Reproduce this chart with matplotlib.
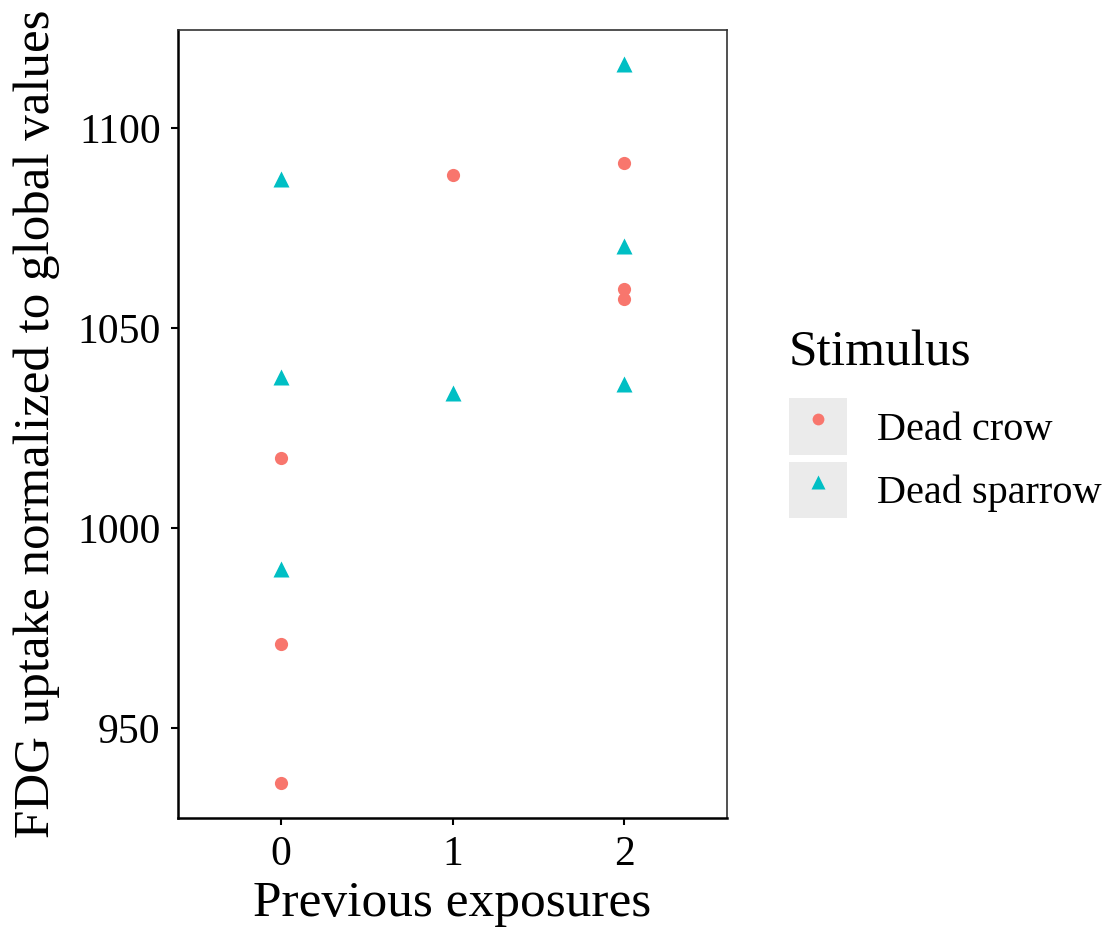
import numpy as np
import matplotlib
matplotlib.use("Agg")
import matplotlib.pyplot as plt
from matplotlib.lines import Line2D
from matplotlib.patches import Rectangle
from matplotlib.legend_handler import HandlerTuple

plt.rcParams["font.family"] = ["Liberation Serif", "DejaVu Serif"]

# data
crow_x = [0, 0, 0, 1, 2, 2, 2]
crow_y = [1017.5, 971.0, 936.3, 1088.2, 1091.2, 1059.8, 1057.2]
sparrow_x = [0, 0, 0, 1, 2, 2, 2]
sparrow_y = [1087.2, 1037.8, 989.8, 1033.8, 1116.0, 1070.5, 1036.0]
y_ticks = [950, 1000, 1050, 1100]
x_ticks = [0, 1, 2]

CROW = "#F8766D"
SPARROW = "#00BFC4"

fig = plt.figure(figsize=(11.1, 9.34), dpi=100)
ax = fig.add_axes([0.1604, 0.1242, 0.4946, 0.8437])

ax.plot(crow_x, crow_y, "o", color=CROW, ms=9.5, mec="none", ls="none")
ax.plot(sparrow_x, sparrow_y, "^", color=SPARROW, ms=11.5, mec="none", ls="none")

ax.set_xlim(-0.6, 2.6)
ax.set_ylim(927.5, 1124.5)
ax.set_xticks(x_ticks)
ax.set_yticks(y_ticks)
ax.tick_params(labelsize=30, length=5, width=1.5, colors="black", pad=7.5)
for side in ("left", "bottom"):
    ax.spines[side].set_linewidth(1.8)
    ax.spines[side].set_color("black")
for side in ("top", "right"):
    ax.spines[side].set_linewidth(1.2)
    ax.spines[side].set_color("#333333")

ax.set_xlabel("Previous exposures", fontsize=37, labelpad=5)
ax.set_ylabel("FDG uptake normalized to global values", fontsize=36.7)
ax.yaxis.set_label_coords(-0.215, 0.5)

bg = "#EBEBEB"
handles = [
    (Rectangle((0, 0), 1, 1, facecolor=bg, edgecolor="none"),
     Line2D([], [], marker="o", color=CROW, ms=8.5, mec="none", ls="none")),
    (Rectangle((0, 0), 1, 1, facecolor=bg, edgecolor="none"),
     Line2D([], [], marker="^", color=SPARROW, ms=10, mec="none", ls="none")),
]
leg = fig.legend(handles, ["Dead crow", "Dead sparrow"],
                 handler_map={tuple: HandlerTuple(ndivide=1, pad=0)},
                 title="Stimulus", title_fontsize=37, fontsize=29,
                 loc="upper left", bbox_to_anchor=(0.7105, 0.647),
                 frameon=False, handlelength=1.45, handleheight=1.78,
                 handletextpad=0.75, labelspacing=0.17, borderpad=0,
                 borderaxespad=0)
leg._legend_box.align = "left"
leg._legend_box.sep = 16

fig.savefig("out.png", dpi=100)
